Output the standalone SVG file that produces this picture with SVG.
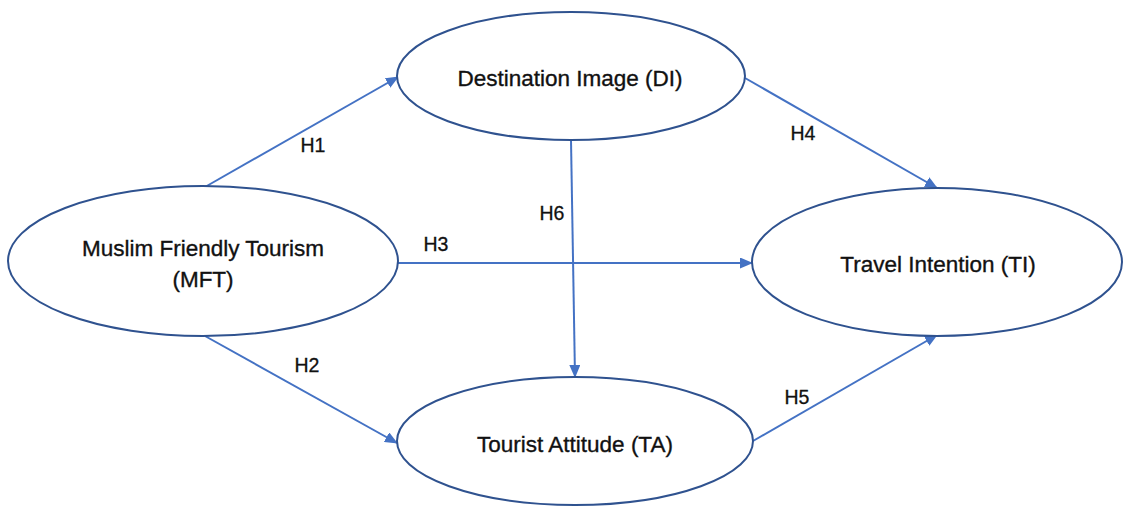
<svg xmlns="http://www.w3.org/2000/svg" width="1124" height="507" viewBox="0 0 1124 507">
<defs>
<marker id="arr" markerWidth="13" markerHeight="11" refX="12" refY="5.5" orient="auto" markerUnits="userSpaceOnUse">
<path d="M0,0 L13,5.5 L0,11 Z" fill="#4472C4"/>
</marker>
<style>
.node ellipse{fill:#fff;stroke:#2F528F;stroke-width:2}
.lbl{font-family:"Liberation Sans",Arial,sans-serif;font-size:22.5px;fill:#111;stroke:#111;stroke-width:0.35;text-anchor:middle}
.h{font-family:"Liberation Sans",Arial,sans-serif;font-size:19.5px;fill:#111;stroke:#111;stroke-width:0.3;text-anchor:middle}
.conn line{stroke:#4472C4;stroke-width:2;marker-end:url(#arr)}
</style>
</defs>
<rect width="1124" height="507" fill="#fff"/>
<g id="connectors" class="conn">
<line x1="205" y1="187" x2="398" y2="77"/>
<line x1="205" y1="336" x2="397" y2="443"/>
<line x1="398" y1="263" x2="752" y2="263"/>
<line x1="745" y1="78" x2="937" y2="188"/>
<line x1="753" y1="441" x2="937" y2="335"/>
<line x1="571" y1="140" x2="575" y2="377"/>
</g>
<g id="node-mft" class="node">
<ellipse cx="203" cy="261" rx="195" ry="75"/>
<text class="lbl" x="203" y="256">Muslim Friendly Tourism</text>
<text class="lbl" x="203" y="287">(MFT)</text>
</g>
<g id="node-di" class="node">
<ellipse cx="571" cy="76" rx="174" ry="64"/>
<text class="lbl" x="570" y="86">Destination Image (DI)</text>
</g>
<g id="node-ti" class="node">
<ellipse cx="937" cy="262" rx="185" ry="74"/>
<text class="lbl" x="938" y="272">Travel Intention (TI)</text>
</g>
<g id="node-ta" class="node">
<ellipse cx="575" cy="441" rx="178" ry="64"/>
<text class="lbl" x="575" y="452">Tourist Attitude (TA)</text>
</g>
<g id="labels">
<text class="h" x="313" y="152">H1</text>
<text class="h" x="307" y="372">H2</text>
<text class="h" x="436" y="251">H3</text>
<text class="h" x="803" y="140">H4</text>
<text class="h" x="797" y="404">H5</text>
<text class="h" x="552" y="220">H6</text>
</g>
</svg>
